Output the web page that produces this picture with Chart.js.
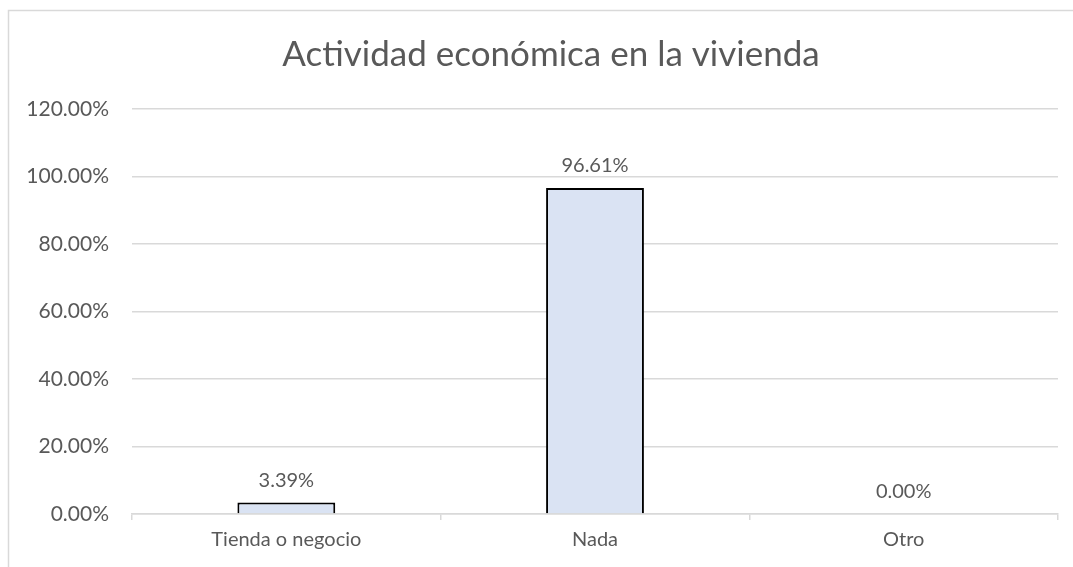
<!DOCTYPE html>
<html>
<head>
<meta charset="utf-8">
<script src="https://cdn.jsdelivr.net/npm/chart.js@4"></script>
<style>
  html, body { margin: 0; padding: 0; background: #fff; }
  #wrap { position: relative; width: 1073px; height: 567px; }
</style>
</head>
<body>
<div id="wrap"><canvas id="chart" width="1073" height="567"></canvas></div>
<script>
const titleText = 'Actividad económica en la vivienda';
const categories = ['Tienda o negocio', 'Nada', 'Otro'];
const values = [3.39, 96.61, 0.00];
const yTicks = [0, 20, 40, 60, 80, 100, 120];

const fontFamily = 'Lato, "Open Sans", sans-serif';
const textColor = '#595959';
const lineColor = '#d9d9d9';

// outer chart frame (only left and top edges show in the picture)
const framePlugin = {
  id: 'frame',
  beforeDraw(chart) {
    const c = chart.ctx;
    c.save();
    c.strokeStyle = lineColor;
    c.lineWidth = 1.5;
    c.beginPath();
    c.moveTo(8.5, chart.height + 2);
    c.lineTo(8.5, 10.5);
    c.lineTo(chart.width + 2, 10.5);
    c.stroke();
    c.restore();
  }
};

// the original title sits a little right of the canvas centre
const titleShift = {
  id: 'titleShift',
  afterLayout(chart) {
    if (chart.titleBlock) {
      chart.titleBlock.left += 22;
      chart.titleBlock.right += 22;
    }
  }
};

// value labels above the bars
const valueLabels = {
  id: 'valueLabels',
  afterDatasetsDraw(chart) {
    const c = chart.ctx;
    const meta = chart.getDatasetMeta(0);
    c.save();
    c.font = '20px ' + fontFamily;
    c.fillStyle = textColor;
    c.textAlign = 'center';
    c.textBaseline = 'bottom';
    meta.data.forEach((bar, i) => {
      c.fillText(values[i].toFixed(2) + '%', bar.x, bar.y - 12);
    });
    c.restore();
  }
};

new Chart(document.getElementById('chart'), {
  type: 'bar',
  data: {
    labels: categories,
    datasets: [{
      data: values,
      backgroundColor: '#dae3f3',
      borderColor: '#000000',
      borderWidth: 2,
      barPercentage: 0.317,
      categoryPercentage: 1
    }]
  },
  options: {
    responsive: false,
    animation: false,
    layout: { padding: { left: 0, right: 15, top: 0, bottom: 0 } },
    plugins: {
      legend: { display: false },
      tooltip: { enabled: false },
      title: {
        display: true,
        text: titleText,
        color: textColor,
        font: { family: fontFamily, size: 35, weight: 'normal' },
        padding: { top: 34, bottom: 33 }
      }
    },
    scales: {
      x: {
        grid: {
          offset: true,
          drawOnChartArea: false,
          drawTicks: true,
          tickLength: 6,
          color: lineColor,
          lineWidth: 1.5
        },
        border: { color: lineColor, width: 1.5 },
        ticks: {
          color: textColor,
          font: { family: fontFamily, size: 20 },
          padding: 8
        },
        afterFit(scale) { scale.height = 53; }
      },
      y: {
        min: 0,
        max: 120,
        afterBuildTicks(scale) { scale.ticks = yTicks.map(v => ({ value: v })); },
        grid: { drawTicks: false, color: lineColor, lineWidth: 1.5 },
        border: { display: false },
        ticks: {
          color: textColor,
          font: { family: fontFamily, size: 21 },
          padding: 23,
          callback: v => v.toFixed(2) + '%'
        },
        afterFit(scale) { scale.width = 132; }
      }
    }
  },
  plugins: [framePlugin, titleShift, valueLabels]
});
</script>
</body>
</html>
